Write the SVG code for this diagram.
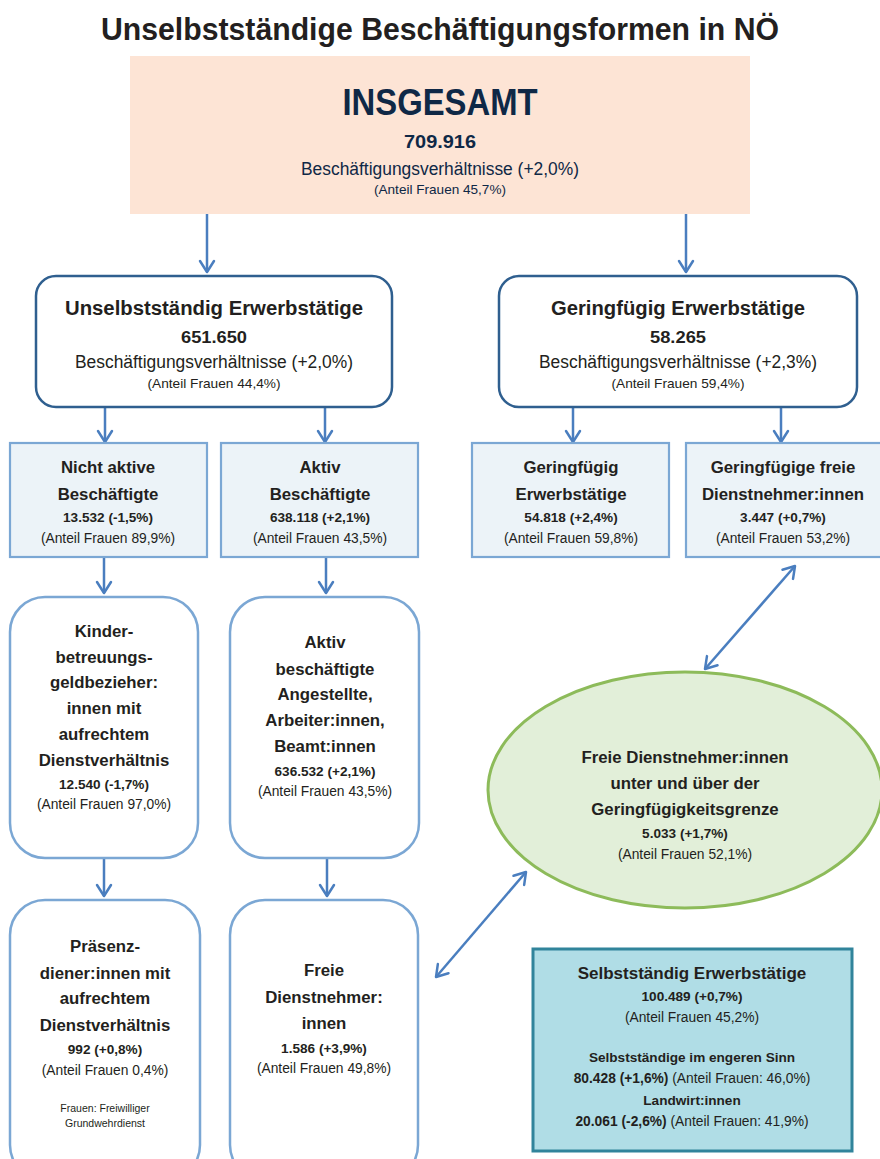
<svg xmlns="http://www.w3.org/2000/svg" width="880" height="1159" viewBox="0 0 880 1159">
<style>
text{font-family:"Liberation Sans",Arial,sans-serif;text-anchor:middle;fill:#231f20}
.b{font-weight:bold}
.navy{fill:#0f2846}
.t16{font-size:16.8px;font-weight:bold}
.n13{font-size:13.6px;font-weight:bold}
.r13{font-size:13.8px}
.conn{stroke:#4a7ebf;stroke-width:2.5;fill:none}
.lt{fill:#ecf3f8;stroke:#7ba7d4;stroke-width:2.2}
.rd{fill:#fff;stroke:#7ba7d4;stroke-width:2.5}
.dk{fill:#fff;stroke:#2f5f8f;stroke-width:2.5}
</style>
<defs>
<marker id="ah" viewBox="-13 -9 15 18" refX="0" refY="0" markerWidth="15" markerHeight="18" markerUnits="userSpaceOnUse" orient="auto-start-reverse">
<path d="M-11,-7 L0,0 L-11,7" fill="none" stroke="#4a7ebf" stroke-width="2.5" stroke-linecap="round" stroke-linejoin="round"/>
</marker>
</defs>
<rect width="880" height="1159" fill="#fff"/>
<text x="440" y="40" class="b" font-size="32" textLength="678" lengthAdjust="spacingAndGlyphs">Unselbstständige Beschäftigungsformen in NÖ</text>

<g id="connectors">
<line class="conn" x1="207" y1="214" x2="207" y2="272" marker-end="url(#ah)"/>
<line class="conn" x1="686" y1="214" x2="686" y2="272" marker-end="url(#ah)"/>
<line class="conn" x1="105" y1="407" x2="105" y2="442" marker-end="url(#ah)"/>
<line class="conn" x1="325" y1="407" x2="325" y2="442" marker-end="url(#ah)"/>
<line class="conn" x1="573" y1="407" x2="573" y2="442" marker-end="url(#ah)"/>
<line class="conn" x1="781" y1="407" x2="781" y2="442" marker-end="url(#ah)"/>
<line class="conn" x1="104" y1="557" x2="104" y2="593" marker-end="url(#ah)"/>
<line class="conn" x1="326" y1="557" x2="326" y2="593" marker-end="url(#ah)"/>
<line class="conn" x1="104" y1="858" x2="104" y2="896" marker-end="url(#ah)"/>
<line class="conn" x1="327" y1="858" x2="327" y2="896" marker-end="url(#ah)"/>
<line class="conn" x1="795" y1="566" x2="705" y2="669" marker-start="url(#ah)" marker-end="url(#ah)"/>
<line class="conn" x1="526" y1="872" x2="436" y2="977" marker-start="url(#ah)" marker-end="url(#ah)"/>
</g>

<g id="insgesamt">
<rect x="130" y="56" width="620" height="158" fill="#fde4d5"/>
<text x="440" y="115" class="b navy" font-size="37" textLength="195" lengthAdjust="spacingAndGlyphs">INSGESAMT</text>
<text x="440" y="148" class="b navy" font-size="18" textLength="72" lengthAdjust="spacingAndGlyphs">709.916</text>
<text x="440" y="175" class="navy" font-size="18" textLength="278" lengthAdjust="spacingAndGlyphs">Beschäftigungsverhältnisse (+2,0%)</text>
<text x="440" y="194" class="navy" font-size="13" textLength="132" lengthAdjust="spacingAndGlyphs">(Anteil Frauen 45,7%)</text>
</g>

<g id="unselbststaendig">
<rect class="dk" x="36" y="276" width="356" height="131" rx="20"/>
<text x="214" y="315" class="b" font-size="20" textLength="298" lengthAdjust="spacingAndGlyphs">Unselbstständig Erwerbstätige</text>
<text x="214" y="343" class="b" font-size="17" textLength="66" lengthAdjust="spacingAndGlyphs">651.650</text>
<text x="214" y="368" font-size="18" textLength="278" lengthAdjust="spacingAndGlyphs">Beschäftigungsverhältnisse (+2,0%)</text>
<text x="214" y="388" font-size="13" textLength="133" lengthAdjust="spacingAndGlyphs">(Anteil Frauen 44,4%)</text>
</g>

<g id="geringfuegig">
<rect class="dk" x="499" y="276" width="358" height="131" rx="20"/>
<text x="678" y="315" class="b" font-size="20" textLength="254" lengthAdjust="spacingAndGlyphs">Geringfügig Erwerbstätige</text>
<text x="678" y="343" class="b" font-size="17" textLength="56" lengthAdjust="spacingAndGlyphs">58.265</text>
<text x="678" y="368" font-size="18" textLength="278" lengthAdjust="spacingAndGlyphs">Beschäftigungsverhältnisse (+2,3%)</text>
<text x="678" y="388" font-size="13" textLength="133" lengthAdjust="spacingAndGlyphs">(Anteil Frauen 59,4%)</text>
</g>

<g id="nicht-aktive">
<rect class="lt" x="10" y="443" width="197" height="114"/>
<text x="108" y="473" class="t16">Nicht aktive</text>
<text x="108" y="500" class="t16">Beschäftigte</text>
<text x="108" y="522" class="n13">13.532 (-1,5%)</text>
<text x="108" y="543" class="r13">(Anteil Frauen 89,9%)</text>
</g>

<g id="aktiv">
<rect class="lt" x="221" y="443" width="197" height="114"/>
<text x="320" y="473" class="t16">Aktiv</text>
<text x="320" y="500" class="t16">Beschäftigte</text>
<text x="320" y="522" class="n13">638.118 (+2,1%)</text>
<text x="320" y="543" class="r13">(Anteil Frauen 43,5%)</text>
</g>

<g id="geringfuegig-erwerbstaetige">
<rect class="lt" x="472" y="443" width="197" height="114"/>
<text x="571" y="473" class="t16">Geringfügig</text>
<text x="571" y="500" class="t16">Erwerbstätige</text>
<text x="571" y="522" class="n13">54.818 (+2,4%)</text>
<text x="571" y="543" class="r13">(Anteil Frauen 59,8%)</text>
</g>

<g id="geringfuegige-freie">
<rect class="lt" x="686" y="443" width="196" height="114"/>
<text x="783" y="473" class="t16">Geringfügige freie</text>
<text x="783" y="500" class="t16">Dienstnehmer:innen</text>
<text x="783" y="522" class="n13">3.447 (+0,7%)</text>
<text x="783" y="543" class="r13">(Anteil Frauen 53,2%)</text>
</g>

<g id="kinderbetreuung">
<rect class="rd" x="10" y="597" width="188" height="261" rx="35"/>
<text x="104" y="637" class="t16">Kinder-</text>
<text x="104" y="663" class="t16">betreuungs-</text>
<text x="104" y="688" class="t16">geldbezieher:</text>
<text x="104" y="714" class="t16">innen mit</text>
<text x="104" y="740" class="t16">aufrechtem</text>
<text x="104" y="766" class="t16">Dienstverhältnis</text>
<text x="104" y="789" class="n13">12.540 (-1,7%)</text>
<text x="104" y="809" class="r13">(Anteil Frauen 97,0%)</text>
</g>

<g id="aktiv-beschaeftigte">
<rect class="rd" x="230" y="597" width="189" height="261" rx="35"/>
<text x="325" y="648" class="t16">Aktiv</text>
<text x="325" y="675" class="t16">beschäftigte</text>
<text x="325" y="700" class="t16">Angestellte,</text>
<text x="325" y="726" class="t16">Arbeiter:innen,</text>
<text x="325" y="752" class="t16">Beamt:innen</text>
<text x="325" y="776" class="n13">636.532 (+2,1%)</text>
<text x="325" y="796" class="r13">(Anteil Frauen 43,5%)</text>
</g>

<g id="praesenzdiener">
<rect class="rd" x="10" y="900" width="190" height="280" rx="35"/>
<text x="105" y="952" class="t16">Präsenz-</text>
<text x="105" y="979" class="t16">diener:innen mit</text>
<text x="105" y="1004" class="t16">aufrechtem</text>
<text x="105" y="1031" class="t16">Dienstverhältnis</text>
<text x="105" y="1054" class="n13">992 (+0,8%)</text>
<text x="105" y="1075" class="r13">(Anteil Frauen 0,4%)</text>
<text x="105" y="1112" font-size="10.5">Frauen: Freiwilliger</text>
<text x="105" y="1127" font-size="10.5">Grundwehrdienst</text>
</g>

<g id="freie-dienstnehmer">
<rect class="rd" x="230" y="900" width="188" height="280" rx="35"/>
<text x="324" y="976" class="t16">Freie</text>
<text x="324" y="1003" class="t16">Dienstnehmer:</text>
<text x="324" y="1029" class="t16">innen</text>
<text x="324" y="1053" class="n13">1.586 (+3,9%)</text>
<text x="324" y="1073" class="r13">(Anteil Frauen 49,8%)</text>
</g>

<g id="freie-dienstnehmer-gesamt">
<ellipse cx="685" cy="790" rx="197" ry="118" fill="#e2efd9" stroke="#8dbb5a" stroke-width="3"/>
<text x="685" y="763" class="t16">Freie Dienstnehmer:innen</text>
<text x="685" y="789" class="t16">unter und über der</text>
<text x="685" y="815" class="t16">Geringfügigkeitsgrenze</text>
<text x="685" y="838" class="n13">5.033 (+1,7%)</text>
<text x="685" y="859" class="r13">(Anteil Frauen 52,1%)</text>
</g>

<g id="selbststaendig">
<rect x="533" y="949" width="319" height="202" fill="#b0dde6" stroke="#31849b" stroke-width="3"/>
<text x="692" y="979" class="b" font-size="17">Selbstständig Erwerbstätige</text>
<text x="692" y="1001" class="n13">100.489 (+0,7%)</text>
<text x="692" y="1022" class="r13">(Anteil Frauen 45,2%)</text>
<text x="692" y="1062" class="n13">Selbstständige im engeren Sinn</text>
<text x="692" y="1083" class="r13"><tspan font-weight="bold">80.428 (+1,6%)</tspan> (Anteil Frauen: 46,0%)</text>
<text x="692" y="1105" class="n13">Landwirt:innen</text>
<text x="692" y="1126" class="r13"><tspan font-weight="bold">20.061 (-2,6%)</tspan> (Anteil Frauen: 41,9%)</text>
</g>
</svg>
